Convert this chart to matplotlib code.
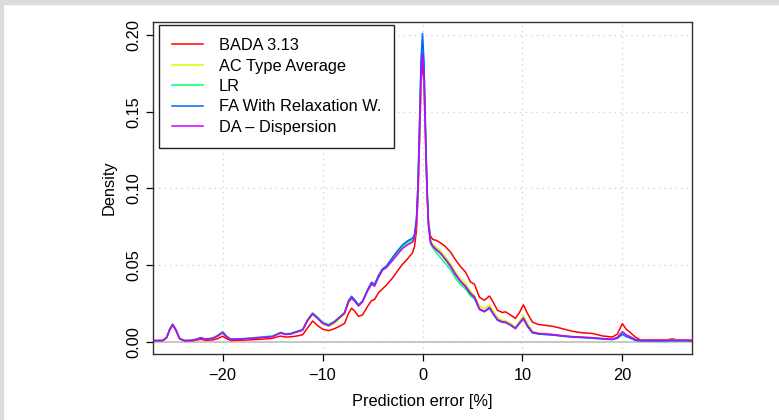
import numpy as np
import matplotlib
matplotlib.use("Agg")
from matplotlib import pyplot as plt
from matplotlib.patches import Rectangle

# prediction error grid [%] shared by all density curves
x = [-27.0, -26.0, -25.6, -25.3, -25.0, -24.7, -24.3, -23.8, -23.0, -22.5,
     -22.2, -21.7, -21.0, -20.5, -20.0, -19.6, -19.2, -18.0, -17.0, -16.0,
     -15.0, -14.6, -14.2, -13.7, -13.2, -12.6, -12.0, -11.5, -11.0, -10.5,
     -10.0, -9.4, -8.8, -8.2, -7.8, -7.4, -7.1, -6.8, -6.4, -6.0,
     -5.5, -5.1, -4.8, -4.4, -4.0, -3.6, -3.0, -2.5, -2.0, -1.5,
     -1.0, -0.8, -0.6, -0.45, -0.3, -0.15, 0.0, 0.15, 0.3, 0.45,
     0.6, 0.8, 1.0, 1.4, 1.8, 2.3, 2.8, 3.3, 3.8, 4.3,
     4.8, 5.2, 5.7, 6.2, 6.7, 7.1, 7.5, 8.0, 8.3, 8.8,
     9.3, 9.7, 10.1, 10.5, 11.0, 11.6, 12.4, 13.2, 14.0, 15.0,
     16.0, 17.0, 18.0, 19.0, 19.5, 20.0, 20.4, 20.8, 21.3, 21.8,
     23.0, 24.5, 25.0, 25.5, 26.3, 27.0]

bada = [0.0005, 0.0007, 0.0025, 0.0075, 0.0108, 0.0075, 0.0018, 0.0005, 0.0006, 0.0012,
        0.0016, 0.0009, 0.0011, 0.0020, 0.0036, 0.0020, 0.0008, 0.0010, 0.0013, 0.0017,
        0.0022, 0.0030, 0.0037, 0.0030, 0.0032, 0.0037, 0.0045, 0.0090, 0.0135, 0.0105,
        0.0082, 0.0072, 0.0085, 0.0104, 0.0120, 0.0185, 0.0218, 0.0200, 0.0165, 0.0175,
        0.0230, 0.0268, 0.0275, 0.0320, 0.0345, 0.0370, 0.0415, 0.0462, 0.0505, 0.0540,
        0.0580, 0.0620, 0.0730, 0.0946, 0.1300, 0.1673, 0.1840, 0.1684, 0.1326, 0.0986,
        0.0782, 0.0690, 0.0668, 0.0660, 0.0645, 0.0620, 0.0585, 0.0535, 0.0490, 0.0455,
        0.0390, 0.0375, 0.0290, 0.0270, 0.0298, 0.0255, 0.0205, 0.0190, 0.0195, 0.0175,
        0.0152, 0.0190, 0.0240, 0.0185, 0.0128, 0.0112, 0.0106, 0.0098, 0.0085, 0.0068,
        0.0058, 0.0054, 0.0038, 0.0030, 0.0050, 0.0118, 0.0080, 0.0060, 0.0030, 0.0013,
        0.0013, 0.0013, 0.0018, 0.0012, 0.0013, 0.0010]

ac_avg = [0.0007, 0.0008, 0.0028, 0.0080, 0.0113, 0.0080, 0.0020, 0.0007, 0.0009, 0.0018,
          0.0024, 0.0015, 0.0022, 0.0036, 0.0058, 0.0032, 0.0015, 0.0018, 0.0023, 0.0027,
          0.0035, 0.0045, 0.0057, 0.0048, 0.0050, 0.0062, 0.0075, 0.0135, 0.0178, 0.0150,
          0.0120, 0.0100, 0.0120, 0.0155, 0.0180, 0.0250, 0.0280, 0.0265, 0.0240, 0.0265,
          0.0330, 0.0375, 0.0362, 0.0420, 0.0465, 0.0485, 0.0530, 0.0572, 0.0610, 0.0635,
          0.0652, 0.0680, 0.0780, 0.1003, 0.1360, 0.1743, 0.1910, 0.1739, 0.1355, 0.0991,
          0.0768, 0.0662, 0.0635, 0.0615, 0.0592, 0.0555, 0.0508, 0.0455, 0.0410, 0.0380,
          0.0330, 0.0300, 0.0235, 0.0215, 0.0240, 0.0200, 0.0160, 0.0140, 0.0138, 0.0120,
          0.0095, 0.0135, 0.0170, 0.0120, 0.0068, 0.0057, 0.0052, 0.0047, 0.0040, 0.0034,
          0.0030, 0.0026, 0.0020, 0.0016, 0.0028, 0.0065, 0.0045, 0.0032, 0.0016, 0.0010,
          0.0009, 0.0009, 0.0011, 0.0009, 0.0010, 0.0008]

lr = [0.0007, 0.0008, 0.0028, 0.0080, 0.0115, 0.0080, 0.0020, 0.0007, 0.0009, 0.0020,
      0.0027, 0.0017, 0.0025, 0.0042, 0.0067, 0.0038, 0.0018, 0.0020, 0.0026, 0.0032,
      0.0038, 0.0050, 0.0062, 0.0052, 0.0055, 0.0068, 0.0080, 0.0145, 0.0188, 0.0160,
      0.0128, 0.0112, 0.0135, 0.0168, 0.0188, 0.0265, 0.0292, 0.0272, 0.0235, 0.0262,
      0.0335, 0.0383, 0.0370, 0.0428, 0.0470, 0.0490, 0.0540, 0.0583, 0.0622, 0.0648,
      0.0665, 0.0690, 0.0800, 0.1023, 0.1400, 0.1796, 0.1970, 0.1787, 0.1381, 0.0995,
      0.0759, 0.0642, 0.0615, 0.0580, 0.0548, 0.0510, 0.0470, 0.0415, 0.0373, 0.0345,
      0.0300, 0.0278, 0.0212, 0.0195, 0.0222, 0.0180, 0.0143, 0.0128, 0.0127, 0.0110,
      0.0088, 0.0122, 0.0155, 0.0105, 0.0060, 0.0052, 0.0048, 0.0044, 0.0037, 0.0031,
      0.0027, 0.0023, 0.0018, 0.0014, 0.0024, 0.0052, 0.0036, 0.0025, 0.0010, 0.0005,
      0.0005, 0.0005, 0.0006, 0.0005, 0.0006, 0.0005]

fa_relax = [0.0007, 0.0008, 0.0028, 0.0080, 0.0113, 0.0080, 0.0020, 0.0007, 0.0009, 0.0018,
            0.0025, 0.0016, 0.0022, 0.0038, 0.0060, 0.0033, 0.0015, 0.0018, 0.0022, 0.0028,
            0.0034, 0.0046, 0.0058, 0.0048, 0.0051, 0.0064, 0.0077, 0.0140, 0.0184, 0.0155,
            0.0123, 0.0106, 0.0130, 0.0165, 0.0190, 0.0268, 0.0296, 0.0275, 0.0240, 0.0265,
            0.0340, 0.0388, 0.0375, 0.0433, 0.0475, 0.0495, 0.0550, 0.0593, 0.0632, 0.0658,
            0.0675, 0.0700, 0.0810, 0.1042, 0.1427, 0.1833, 0.2010, 0.1823, 0.1408, 0.1013,
            0.0772, 0.0653, 0.0625, 0.0600, 0.0575, 0.0535, 0.0492, 0.0437, 0.0393, 0.0360,
            0.0312, 0.0288, 0.0210, 0.0195, 0.0218, 0.0178, 0.0140, 0.0126, 0.0125, 0.0108,
            0.0085, 0.0118, 0.0148, 0.0100, 0.0058, 0.0050, 0.0046, 0.0042, 0.0036, 0.0030,
            0.0027, 0.0023, 0.0018, 0.0014, 0.0022, 0.0048, 0.0033, 0.0023, 0.0009, 0.0005,
            0.0005, 0.0005, 0.0006, 0.0005, 0.0006, 0.0005]

da_disp = [0.0007, 0.0008, 0.0028, 0.0080, 0.0112, 0.0080, 0.0020, 0.0007, 0.0009, 0.0018,
           0.0025, 0.0016, 0.0022, 0.0037, 0.0058, 0.0032, 0.0015, 0.0018, 0.0022, 0.0028,
           0.0033, 0.0045, 0.0057, 0.0047, 0.0050, 0.0063, 0.0075, 0.0138, 0.0181, 0.0152,
           0.0120, 0.0104, 0.0128, 0.0163, 0.0185, 0.0260, 0.0283, 0.0265, 0.0233, 0.0260,
           0.0330, 0.0376, 0.0362, 0.0420, 0.0467, 0.0484, 0.0530, 0.0570, 0.0608, 0.0632,
           0.0650, 0.0675, 0.0780, 0.0991, 0.1345, 0.1718, 0.1880, 0.1712, 0.1333, 0.0974,
           0.0755, 0.0651, 0.0625, 0.0600, 0.0578, 0.0538, 0.0495, 0.0440, 0.0395, 0.0362,
           0.0316, 0.0293, 0.0215, 0.0198, 0.0224, 0.0182, 0.0145, 0.0130, 0.0128, 0.0110,
           0.0088, 0.0122, 0.0154, 0.0105, 0.0062, 0.0054, 0.0050, 0.0046, 0.0039, 0.0033,
           0.0030, 0.0026, 0.0021, 0.0016, 0.0028, 0.0065, 0.0045, 0.0032, 0.0015, 0.0010,
           0.0009, 0.0009, 0.0012, 0.0009, 0.0010, 0.0008]

names = ["BADA 3.13", "AC Type Average", "LR", "FA With Relaxation W.", "DA \u2013 Dispersion"]
series = [bada, ac_avg, lr, fa_relax, da_disp]
colors = ["#FF0000", "#CCFF00", "#00FF66", "#0066FF", "#CC00FF"]

xticks = [-20, -10, 0, 10, 20]
yticks = [0.00, 0.05, 0.10, 0.15, 0.20]

plt.rcParams['font.family'] = ['Liberation Sans', 'DejaVu Sans']
fs = 11.8

fig = plt.figure(figsize=(7.79, 4.20), dpi=100)
# light frame of the page at top and left
fig.patches.append(Rectangle((0, 1 - 4 / 420), 1, 4 / 420, transform=fig.transFigure,
                             color="#dcdcdc", zorder=0))
fig.patches.append(Rectangle((0, 0), 3 / 779, 1, transform=fig.transFigure,
                             color="#dcdcdc", zorder=0))

ax = fig.add_axes([152.7 / 779, 1 - 354 / 420, 539.6 / 779, 332 / 420])

for v in xticks:
    ax.axvline(v, color="#d3d3d3", lw=1.0, ls=(0, (1, 3)), zorder=1)
for v in yticks:
    ax.axhline(v, color="#d3d3d3", lw=1.0, ls=(0, (1, 3)), zorder=1)
ax.axhline(0, color="#c4c4c4", lw=1.3, zorder=1)

for name, y, c in zip(names, series, colors):
    ax.plot(x, y, color=c, lw=1.1, label=name, zorder=2)

ax.set_xlim(-27, 27)
ax.set_ylim(-0.00802, 0.2085)
ax.set_xticks(xticks)
ax.set_xticklabels(["\u221220", "\u221210", "0", "10", "20"])
ax.set_yticks(yticks)
ax.set_yticklabels(["0.00", "0.05", "0.10", "0.15", "0.20"], va="center")
ax.tick_params(axis="both", direction="out", length=5, width=0.9, labelsize=fs, pad=5)
ax.tick_params(axis="y", labelrotation=90, pad=3)
for s in ax.spines.values():
    s.set_color("#333333")
    s.set_linewidth(1.0)

ax.set_xlabel("Prediction error [%]", fontsize=fs, labelpad=8)
ax.set_ylabel("Density", fontsize=fs, labelpad=7)

leg = ax.legend(loc="upper left", bbox_to_anchor=(0.0111, 0.991), borderaxespad=0,
                fontsize=fs, fancybox=False, framealpha=1, edgecolor="#222222",
                handlelength=1.9, handletextpad=0.98, labelspacing=0.33, borderpad=0.8)
leg.get_frame().set_linewidth(1.0)

fig.savefig("out.png", dpi=100)
